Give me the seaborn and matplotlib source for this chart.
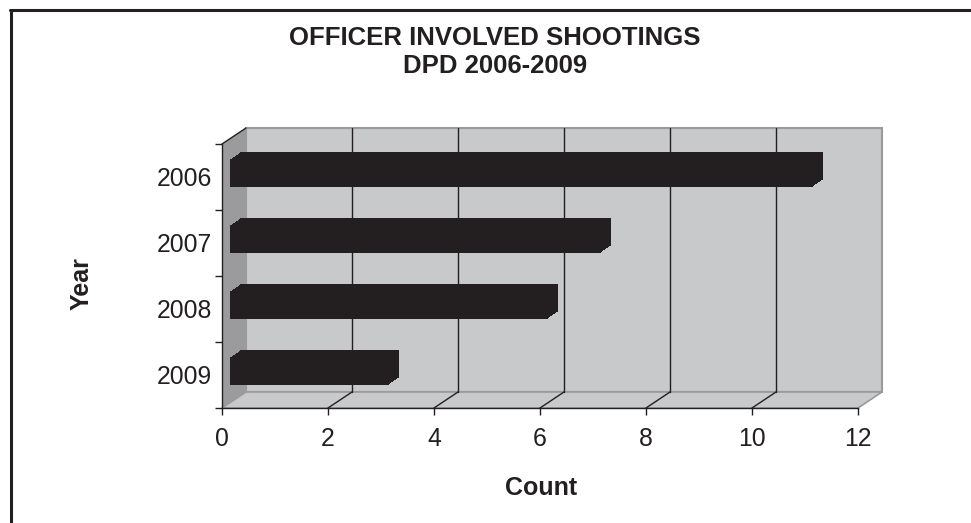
import pandas as pd
import matplotlib
matplotlib.use("Agg")
import matplotlib.pyplot as plt
import matplotlib.transforms as mtransforms
from matplotlib.patches import Polygon, Rectangle
from matplotlib.lines import Line2D
import seaborn as sns

years = ["2006", "2007", "2008", "2009"]
counts = [11, 7, 6, 3]
x_ticks = [0, 2, 4, 6, 8, 10, 12]
title = "OFFICER INVOLVED SHOOTINGS\nDPD 2006-2009"

W, H, DPI = 971, 523, 100
ink = "#231f20"
wall = "#c8c9cb"
side = "#9b9b9d"
edge = "#9a9a9c"
DX, DY = 24, 16      # depth of the fake 3d box, pixels
BX, BY = 8, 4        # bar front face offset from the front plane
BDEPTH = 10          # bar depth

sns.set_style("ticks")
plt.rcParams["font.family"] = ["Liberation Sans", "DejaVu Sans"]

fig = plt.figure(figsize=(W / DPI, H / DPI), dpi=DPI)
ax = fig.add_axes([222 / W, 1 - 408 / H, 636 / W, 264 / H])
ax.patch.set_visible(False)

df = pd.DataFrame({"year": years, "count": counts})
sns.barplot(data=df, x="count", y="year", orient="h", color=ink,
            saturation=1, width=0.41, linewidth=0, ax=ax)
ax.set_xlim(x_ticks[0], x_ticks[-1])
ax.set_ylim(len(years) - 0.5, -0.5)


def shift(dx, dy):
    return mtransforms.ScaledTranslation(dx / DPI, dy / DPI, fig.dpi_scale_trans)


# extrude the bars: front face plus copies pushed back into the box
bars = list(ax.patches)
for b in bars:
    for k in range(BDEPTH, 0, -1):
        r = Rectangle(b.get_xy(), b.get_width(), b.get_height(),
                      facecolor=ink, linewidth=0, clip_on=False,
                      transform=ax.transData + shift(BX + k, BY + 0.7 * k))
        ax.add_patch(r)
    b.set_transform(ax.transData + shift(BX, BY))
    b.set_clip_on(False)
    b.set_zorder(3)


def fpt(xv, yf, dx=0, dy=0):
    p = ax.get_xaxis_transform().transform((xv, yf)) + (dx, dy)
    return fig.transFigure.inverted().transform(p)


x0, x1 = x_ticks[0], x_ticks[-1]
back = [fpt(x0, 0, DX, DY), fpt(x1, 0, DX, DY), fpt(x1, 1, DX, DY), fpt(x0, 1, DX, DY)]
left = [fpt(x0, 0), fpt(x0, 0, DX, DY), fpt(x0, 1, DX, DY), fpt(x0, 1)]
floor = [fpt(x0, 0), fpt(x1, 0), fpt(x1, 0, DX, DY), fpt(x0, 0, DX, DY)]
fig.add_artist(Polygon(back, closed=True, facecolor=wall, edgecolor=edge,
                       linewidth=1.5, transform=fig.transFigure, zorder=-3))
fig.add_artist(Polygon(floor, closed=True, facecolor=wall, edgecolor=edge,
                       linewidth=1.2, transform=fig.transFigure, zorder=-2))
fig.add_artist(Polygon(left, closed=True, facecolor=side, edgecolor="none",
                       transform=fig.transFigure, zorder=-2))
for v in x_ticks[1:-1]:
    a, b = fpt(v, 0, DX, DY), fpt(v, 1, DX, DY)
    fig.add_artist(Line2D([a[0], b[0]], [a[1], b[1]], color=ink, lw=1,
                          transform=fig.transFigure, zorder=-1))
    a, b = fpt(v, 0), fpt(v, 0, DX, DY)
    fig.add_artist(Line2D([a[0], b[0]], [a[1], b[1]], color=ink, lw=1,
                          transform=fig.transFigure, zorder=-1))
a, b = fpt(x0, 1), fpt(x0, 1, DX, DY)
fig.add_artist(Line2D([a[0], b[0]], [a[1], b[1]], color=ink, lw=1,
                      transform=fig.transFigure, zorder=-1))

# axes and ticks
for s in ["top", "right"]:
    ax.spines[s].set_visible(False)
for s in ["left", "bottom"]:
    ax.spines[s].set_color(ink)
    ax.spines[s].set_linewidth(1)
ax.set_xticks(x_ticks, labels=[str(t) for t in x_ticks])
ax.set_yticks([i - 0.5 for i in range(len(years) + 1)],
              labels=[""] * (len(years) + 1))
ax.set_yticks(range(len(years)), labels=years, minor=True)
ax.tick_params(axis="x", direction="out", length=5, width=1, color=ink,
               labelsize=17.8, labelcolor=ink, pad=9, bottom=True)
ax.tick_params(axis="y", which="major", direction="out", length=5, width=1,
               color=ink, left=True)
ax.tick_params(axis="y", which="minor", length=0, labelsize=17.8,
               labelcolor=ink, pad=7.2)
ax.set_xlabel("")
ax.set_ylabel("")

fig.text(495 / W, 1 - 52 / H, title, ha="center", va="center",
         fontsize=18.5, fontweight="bold", color=ink, linespacing=1.2)
fig.text(541 / W, 1 - 488 / H, "Count", ha="center", va="center",
         fontsize=18, fontweight="bold", color=ink)
fig.text(82 / W, 1 - 284 / H, "Year", ha="center", va="center",
         rotation=90, fontsize=18, fontweight="bold", color=ink)

# frame around the picture (only top and left edges are visible)
fig.add_artist(Line2D([11 / W, 11 / W], [0, 1 - 10 / H], color=ink, lw=2.2,
                      transform=fig.transFigure))
fig.add_artist(Line2D([10 / W, 1], [1 - 10 / H, 1 - 10 / H], color=ink, lw=2.2,
                      transform=fig.transFigure))

fig.savefig("out.png", dpi=DPI)
